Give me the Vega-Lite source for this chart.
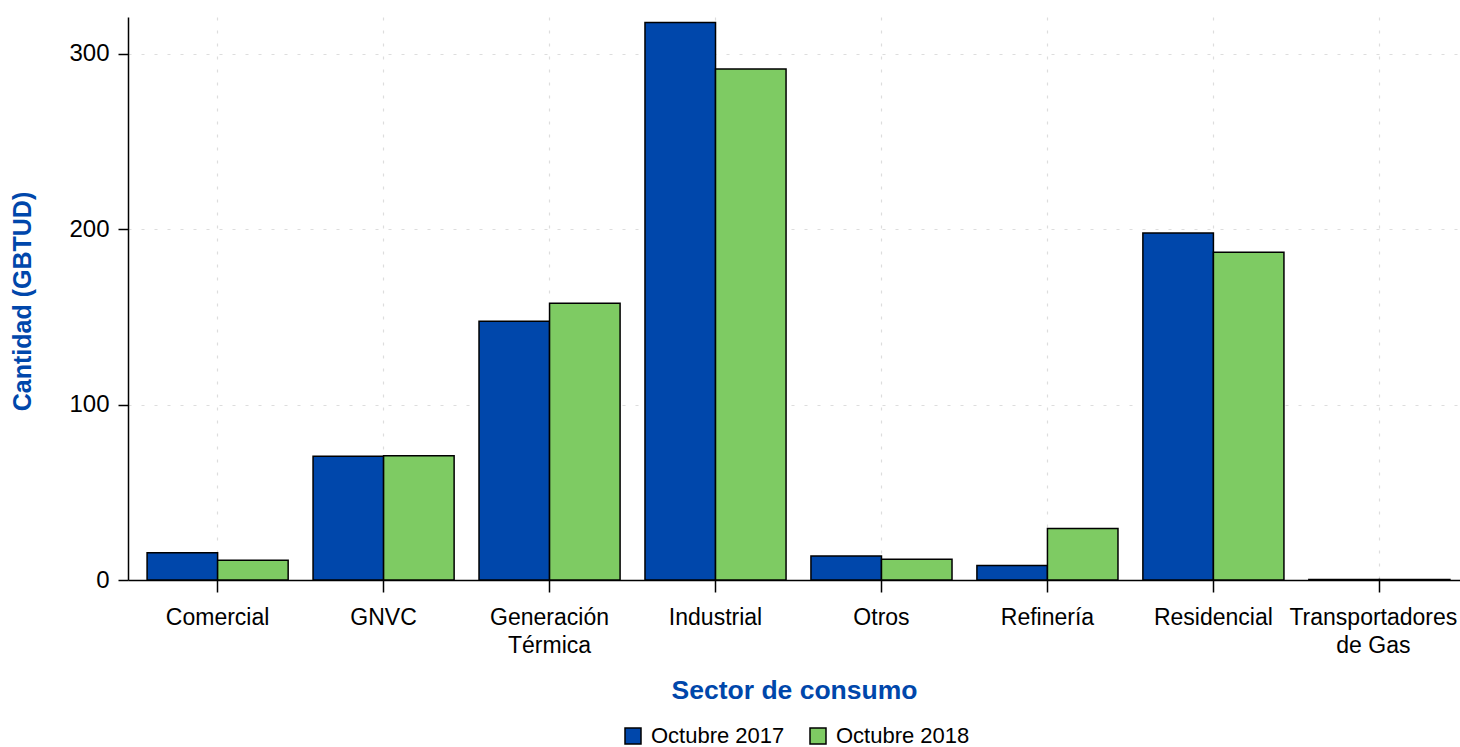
{
  "$schema": "https://vega.github.io/schema/vega-lite/v6.json",
  "width": 1332,
  "height": 563,
  "autosize": {"type": "none"},
  "padding": {"left": 128, "top": 17, "right": 0, "bottom": 167},
  "background": "white",
  "config": {
    "font": "Liberation Sans",
    "view": {"stroke": null},
    "axis": {"labelFont": "Liberation Sans", "titleFont": "Liberation Sans"}
  },
  "data": {
    "values": [
      {"sector": "Comercial", "periodo": "Octubre 2017", "cantidad": 15.5},
      {"sector": "Comercial", "periodo": "Octubre 2018", "cantidad": 11.2},
      {"sector": "GNVC", "periodo": "Octubre 2017", "cantidad": 70.6},
      {"sector": "GNVC", "periodo": "Octubre 2018", "cantidad": 70.9},
      {"sector": "Generación Térmica", "periodo": "Octubre 2017", "cantidad": 147.6},
      {"sector": "Generación Térmica", "periodo": "Octubre 2018", "cantidad": 157.8},
      {"sector": "Industrial", "periodo": "Octubre 2017", "cantidad": 317.9},
      {"sector": "Industrial", "periodo": "Octubre 2018", "cantidad": 291.4},
      {"sector": "Otros", "periodo": "Octubre 2017", "cantidad": 13.7},
      {"sector": "Otros", "periodo": "Octubre 2018", "cantidad": 11.8},
      {"sector": "Refinería", "periodo": "Octubre 2017", "cantidad": 8.2},
      {"sector": "Refinería", "periodo": "Octubre 2018", "cantidad": 29.3},
      {"sector": "Residencial", "periodo": "Octubre 2017", "cantidad": 197.8},
      {"sector": "Residencial", "periodo": "Octubre 2018", "cantidad": 186.9},
      {"sector": "Transportadores de Gas", "periodo": "Octubre 2017", "cantidad": 0.3},
      {"sector": "Transportadores de Gas", "periodo": "Octubre 2018", "cantidad": 0.3}
    ]
  },
  "mark": {"type": "bar", "stroke": "black", "strokeWidth": 1.5},
  "encoding": {
    "x": {
      "field": "sector",
      "type": "nominal",
      "sort": null,
      "scale": {"paddingInner": 0.15, "paddingOuter": 0.115, "range": [0, 1341]},
      "axis": {
        "title": "Sector de consumo",
        "titleColor": "#0047AB",
        "titleFontSize": 26.5,
        "titleFontWeight": "bold",
        "titleBaseline": "middle",
        "titleX": 666,
        "titleY": 110,
        "labelAngle": 0,
        "labelFontSize": 23,
        "labelColor": "black",
        "labelPadding": 14,
        "labelLineHeight": 28,
        "labelOffset": {"condition": {"test": "datum.value == 'Transportadores de Gas'", "value": -6}, "value": 0},
        "labelExpr": "datum.value == 'Generación Térmica' ? ['Generación', 'Térmica'] : datum.value == 'Transportadores de Gas' ? ['Transportadores', 'de Gas'] : datum.label",
        "domainColor": "black",
        "domainWidth": 1.5,
        "tickColor": "black",
        "tickWidth": 1.5,
        "tickSize": 12,
        "grid": true,
        "gridColor": "#dddddd",
        "gridDash": [3, 10],
        "gridWidth": 1.2,
        "bandPosition": 0.5
      }
    },
    "xOffset": {"field": "periodo", "type": "nominal"},
    "y": {
      "field": "cantidad",
      "type": "quantitative",
      "scale": {"domain": [0, 321], "nice": false},
      "axis": {
        "title": "Cantidad (GBTUD)",
        "titleColor": "#0047AB",
        "titleFontSize": 25,
        "titleFontWeight": "bold",
        "titleX": -106,
        "titleY": 284,
        "titleBaseline": "middle",
        "values": [0, 100, 200, 300],
        "labelFontSize": 24,
        "labelColor": "black",
        "labelPadding": 9,
        "domainColor": "black",
        "domainWidth": 1.5,
        "tickColor": "black",
        "tickWidth": 1.5,
        "tickSize": 10,
        "grid": true,
        "gridColor": "#dddddd",
        "gridDash": [3, 10],
        "gridWidth": 1.2
      }
    },
    "color": {
      "field": "periodo",
      "type": "nominal",
      "scale": {"domain": ["Octubre 2017", "Octubre 2018"], "range": ["#0047AB", "#7ECB63"]},
      "legend": {
        "title": null,
        "orient": "none",
        "direction": "horizontal",
        "legendX": 494,
        "legendY": 708,
        "symbolType": "square",
        "symbolSize": 256,
        "symbolStrokeColor": "black",
        "symbolStrokeWidth": 1.5,
        "symbolOpacity": 1,
        "labelFontSize": 22,
        "labelColor": "black",
        "labelOffset": 7,
        "columnPadding": 22
      }
    }
  }
}
